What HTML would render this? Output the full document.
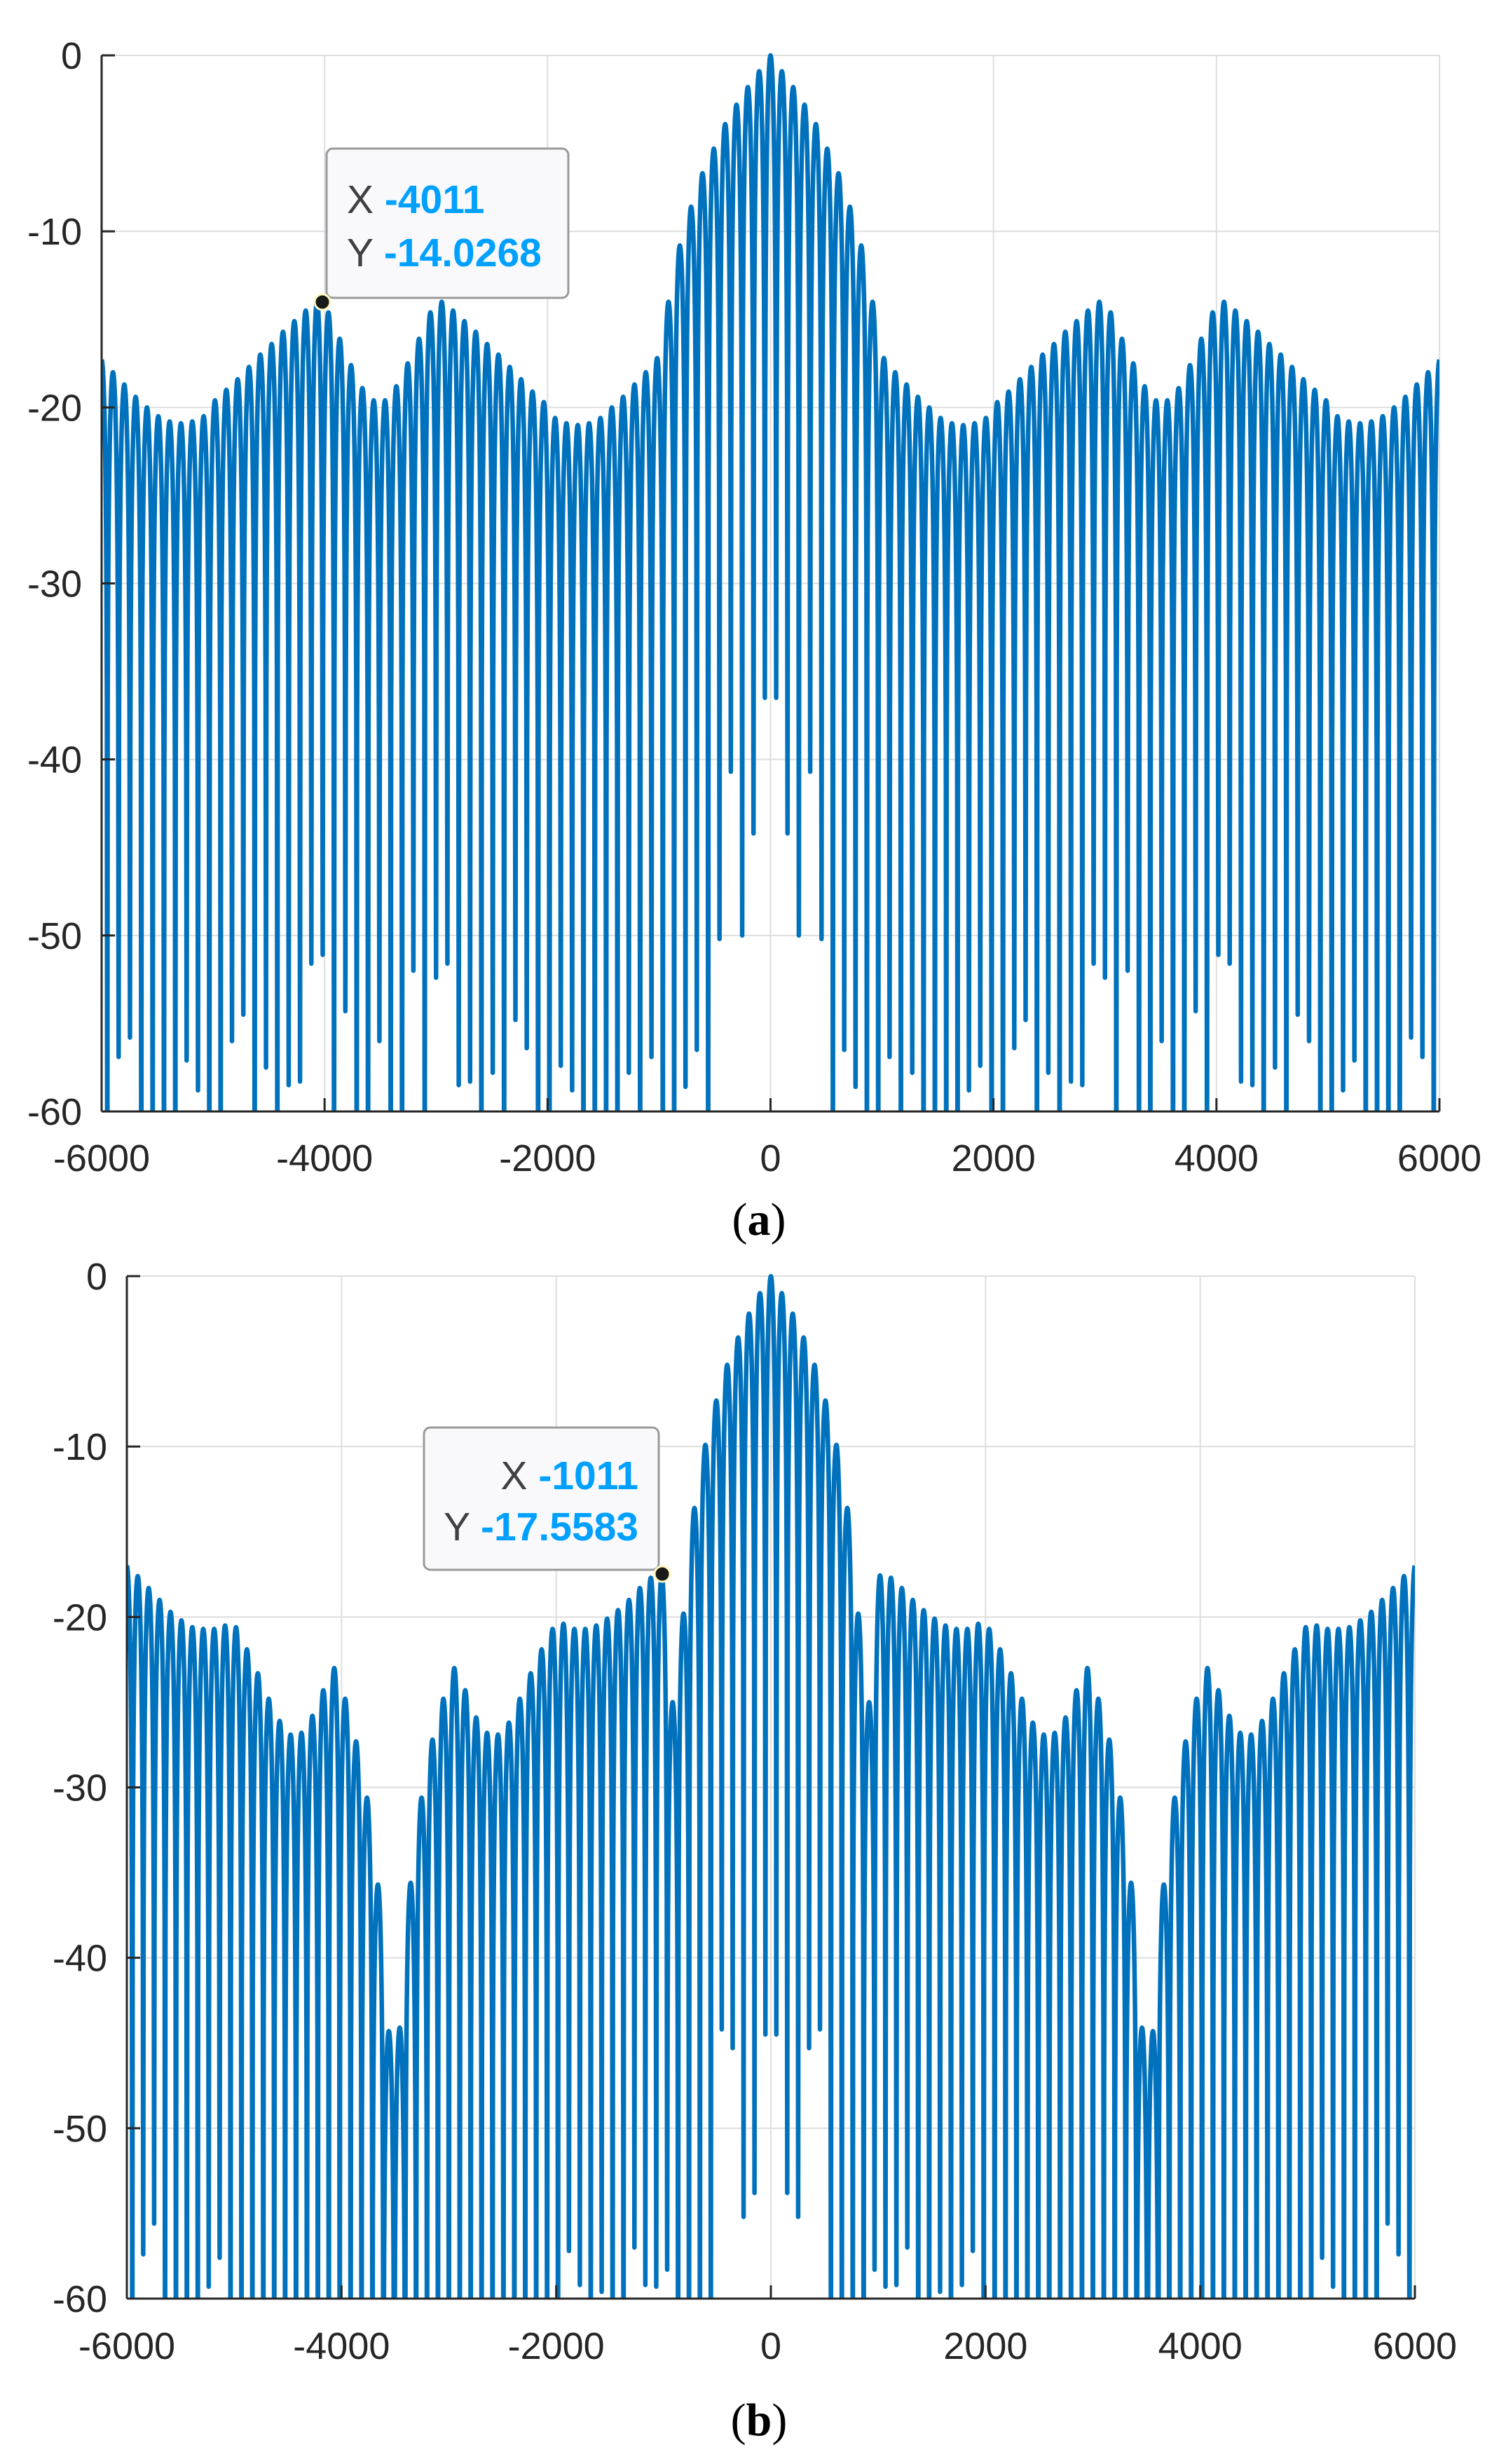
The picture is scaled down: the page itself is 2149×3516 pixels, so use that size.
<!DOCTYPE html>
<html>
<head>
<meta charset="utf-8">
<style>
  html,body{margin:0;padding:0;background:#fff;}
  svg{display:block;}
  text{font-family:"Liberation Sans",Arial,sans-serif;}
</style>
</head>
<body>
<svg id="fig" width="2149" height="3516" viewBox="0 0 2149 3516" xmlns="http://www.w3.org/2000/svg">
  <rect x="0" y="0" width="2149" height="3516" fill="#ffffff"/>
  <g id="chartA"></g>
  <g id="chartB"></g>
</svg>
<script>
const xTicks = [-6000, -4000, -2000, 0, 2000, 4000, 6000];
const yTicks = [0, -10, -20, -30, -40, -50, -60];

const peaksA = [-17.3,-18.0,-18.7,-19.4,-20.0,-20.5,-20.8,-20.9,-20.8,-20.5,-19.6,-19.0,-18.4,-17.7,-17.0,-16.4,-15.7,-15.1,-14.5,-14.0,-14.6,-16.1,-17.6,-18.9,-19.6,-19.6,-18.8,-17.5,-16.1,-14.6,-14.0,-14.5,-15.1,-15.7,-16.4,-17.0,-17.7,-18.4,-19.1,-19.7,-20.6,-20.9,-21.0,-20.9,-20.6,-20.0,-19.4,-18.7,-18.0,-17.2,-14.0,-10.8,-8.6,-6.7,-5.3,-3.9,-2.8,-1.8,-0.9,0,
 -0.9,-1.8,-2.8,-3.9,-5.3,-6.7,-8.6,-10.8,-14.0,-17.2,-18.0,-18.7,-19.4,-20.0,-20.6,-20.9,-21.0,-20.9,-20.6,-19.7,-19.1,-18.4,-17.7,-17.0,-16.4,-15.7,-15.1,-14.5,-14.0,-14.6,-16.1,-17.5,-18.8,-19.6,-19.6,-18.9,-17.6,-16.1,-14.6,-14.0,-14.5,-15.1,-15.7,-16.4,-17.0,-17.7,-18.4,-19.0,-19.6,-20.5,-20.8,-20.9,-20.8,-20.5,-20.0,-19.4,-18.7,-18.0,-17.3];
const nullsA = [-70,-56.9,-55.8,-70,-70,-70,-70,-57.1,-58.8,-70,-70,-56.0,-54.5,-70,-57.5,-70,-58.5,-58.3,-51.6,-51.1,-70,-54.3,-70,-70,-56.0,-70,-70,-52.0,-70,-52.4,-51.6,-58.5,-58.3,-70,-57.8,-70,-54.8,-56.4,-70,-70,-57.4,-58.8,-70,-70,-70,-70,-57.8,-70,-56.9,-70,-70,-58.6,-56.5,-70,-50.2,-40.7,-50.0,-44.2,-36.5,
 -36.5,-44.2,-50.0,-40.7,-50.2,-70,-56.5,-58.6,-70,-70,-56.9,-70,-57.8,-70,-70,-70,-70,-58.8,-57.4,-70,-70,-56.4,-54.8,-70,-57.8,-70,-58.3,-58.5,-51.6,-52.4,-70,-52.0,-70,-70,-56.0,-70,-70,-54.3,-70,-51.1,-51.6,-58.3,-58.5,-70,-57.5,-70,-54.5,-56.0,-70,-70,-58.8,-57.1,-70,-70,-70,-70,-55.8,-56.9,-70];

const peaksB = [-17.0,-17.6,-18.3,-19.0,-19.7,-20.2,-20.6,-20.7,-20.7,-20.5,-20.6,-21.9,-23.3,-24.8,-26.1,-26.9,-26.8,-25.8,-24.3,-23.0,-24.8,-27.3,-30.6,-35.7,-44.3,-44.1,-35.6,-30.6,-27.2,-24.8,-23.0,-24.3,-25.9,-26.8,-26.9,-26.2,-24.8,-23.3,-21.9,-20.7,-20.4,-20.7,-20.7,-20.5,-20.1,-19.6,-19.0,-18.3,-17.7,-17.56,-25.0,-19.8,-13.6,-9.9,-7.3,-5.2,-3.6,-2.2,-1.0,0,
 -1.0,-2.2,-3.6,-5.2,-7.3,-9.9,-13.6,-19.8,-25.0,-17.56,-17.7,-18.3,-19.0,-19.6,-20.1,-20.5,-20.7,-20.7,-20.4,-20.7,-21.9,-23.3,-24.8,-26.2,-26.9,-26.8,-25.9,-24.3,-23.0,-24.8,-27.2,-30.6,-35.6,-44.1,-44.3,-35.7,-30.6,-27.3,-24.8,-23.0,-24.3,-25.8,-26.8,-26.9,-26.1,-24.8,-23.3,-21.9,-20.6,-20.5,-20.7,-20.7,-20.6,-20.2,-19.7,-19.0,-18.3,-17.6,-17.0];
const nullsB = [-70,-57.4,-55.6,-70,-70,-70,-70,-59.3,-57.6,
 -70,-70,-70,-70,-70,-70,-70,-70,-70,-70,-70,-70,-70,-70,-70,-70,-70,-70,-70,-70,-70,-70,-70,-70,-70,-70,-70,-70,-70,-70,-70,
 -57.2,-59.2,-70,-59.6,-70,-70,-57.0,-59.2,-59.3,-58.3,-70,-70,-70,-70,-44.2,-45.3,-55.2,-53.8,-44.5,
 -44.5,-53.8,-55.2,-45.3,-44.2,-70,-70,-70,-70,-58.3,-59.3,-59.2,-57.0,-70,-70,-59.6,-70,-59.2,-57.2,
 -70,-70,-70,-70,-70,-70,-70,-70,-70,-70,-70,-70,-70,-70,-70,-70,-70,-70,-70,-70,-70,-70,-70,-70,-70,-70,-70,-70,-70,-70,-70,
 -57.6,-59.3,-70,-70,-70,-70,-55.6,-57.4,-70];

const NS = "http://www.w3.org/2000/svg";
function mk(parent, tag, attrs, txt) {
  const e = document.createElementNS(NS, tag);
  for (const k in attrs) e.setAttribute(k, attrs[k]);
  if (txt !== undefined) e.textContent = txt;
  parent.appendChild(e);
  return e;
}

function drawChart(g, cfg, peaks, nulls, id) {
  const L = cfg.left, R = cfg.right, T = cfg.top, B = cfg.bottom;
  const xs = v => L + (v + 6000) / 12000 * (R - L);
  const ys = v => T + (0 - v) / 60 * (B - T);

  xTicks.forEach(t => {
    const ln = mk(g, "line", {x1: xs(t), x2: xs(t), y1: T, y2: B, stroke: "#dedede", "stroke-width": 2});
    
    
  });
  yTicks.forEach(t => {
    const ln = mk(g, "line", {x1: L, x2: R, y1: ys(t), y2: ys(t), stroke: "#dedede", "stroke-width": 2});
    
    
  });

  const cp = mk(g, "clipPath", {id: "clip" + id});
  mk(cp, "rect", {x: L, y: T - 4, width: R - L, height: B - T + 4});

  const N = peaks.length;
  const step = 12000 / (N - 1);
  let pts = [];
  for (let k = 0; k < N; k++) {
    const xc = -6000 + k * step;
    const xl = xc - step / 2, xr = xc + step / 2;
    const nl = k > 0 ? nulls[k - 1] : peaks[k];
    const nr = k < N - 1 ? nulls[k] : peaks[k];
    const S = 28;
    for (let i = 0; i <= S; i++) {
      const t = i / S;
      if (k === 0 && t < 0.5) continue;
      if (k === N - 1 && t > 0.5) continue;
      let v = peaks[k] + 20 * Math.log10(Math.max(Math.sin(Math.PI * t), 1e-6));
      v = t < 0.5 ? Math.max(v, nl) : Math.max(v, nr);
      pts.push(xs(xl + t * (xr - xl)).toFixed(2) + "," + ys(v).toFixed(2));
    }
  }
  const line = mk(g, "polyline", {points: pts.join(" "), fill: "none", stroke: "#0072BD", "stroke-width": 6.5, "stroke-linejoin": "round", "clip-path": "url(#clip" + id + ")"});
  
  

  const ax = mk(g, "line", {x1: L, x2: L, y1: T, y2: B, stroke: "#262626", "stroke-width": 3});
  
  
  const bx = mk(g, "line", {x1: L, x2: R, y1: B, y2: B, stroke: "#262626", "stroke-width": 3});
  
  

  yTicks.forEach(t => {
    mk(g, "line", {x1: L, x2: L + 19, y1: ys(t), y2: ys(t), stroke: "#262626", "stroke-width": 3});
    const tx = mk(g, "text", {x: cfg.yLabelRight, y: ys(t) + 19, "text-anchor": "end", "font-size": 54, fill: "#262626"}, String(t));
    
    
  });
  xTicks.forEach(t => {
    mk(g, "line", {x1: xs(t), x2: xs(t), y1: B, y2: B - 19, stroke: "#262626", "stroke-width": 3});
    const tx = mk(g, "text", {x: xs(t), y: cfg.xLabelBase, "text-anchor": "middle", "font-size": 54, fill: "#262626"}, String(t));
    
    
  });

  const cap = mk(g, "text", {x: 1083, y: cfg.capBase, "text-anchor": "middle", "font-size": 66, fill: "#000", style: "font-family:'Liberation Serif',serif"});
  
  
  mk(cap, "tspan", {}, "(");
  mk(cap, "tspan", {"font-weight": "bold"}, cfg.letter);
  mk(cap, "tspan", {}, ")");

  const tip = mk(g, "g", {});
  
  
  const d = cfg.tip;
  mk(tip, "rect", {x: d.bx, y: d.by, width: d.bw, height: d.bh, rx: 9, fill: "#f9f9fc", stroke: "#9a9a9a", "stroke-width": 3});
  const mkrow = (label, val, y) => {
    const tx = mk(tip, "text", {x: d.tx, y: y, "text-anchor": d.anchor, "font-size": 57, fill: "#404040"});
    mk(tx, "tspan", {}, label + " ");
    mk(tx, "tspan", {fill: "#00A0FF", "font-weight": "bold"}, val);
  };
  mkrow("X", d.xv, d.y1);
  mkrow("Y", d.yv, d.y2);
  const dot = mk(tip, "circle", {cx: d.mx, cy: d.my, r: 11, fill: "#1a1a1a", stroke: "#fff8c0", "stroke-width": 3});
  
  
}

drawChart(document.getElementById("chartA"), {
  left: 145, right: 2054, top: 79, bottom: 1586, yLabelRight: 117, xLabelBase: 1671, capBase: 1762, letter: "a",
  tip: {bx: 466, by: 212, bw: 345, bh: 213, tx: 495, anchor: "start", xv: "-4011", yv: "-14.0268", y1: 304, y2: 380, mx: 460, my: 431}
}, peaksA, nullsA, "A");

drawChart(document.getElementById("chartB"), {
  left: 181, right: 2019, top: 1821, bottom: 3280, yLabelRight: 153, xLabelBase: 3366, capBase: 3475, letter: "b",
  tip: {bx: 605, by: 2037, bw: 335, bh: 203, tx: 911, anchor: "end", xv: "-1011", yv: "-17.5583", y1: 2125, y2: 2198, mx: 945, my: 2246}
}, peaksB, nullsB, "B");
</script>
</body>
</html>
